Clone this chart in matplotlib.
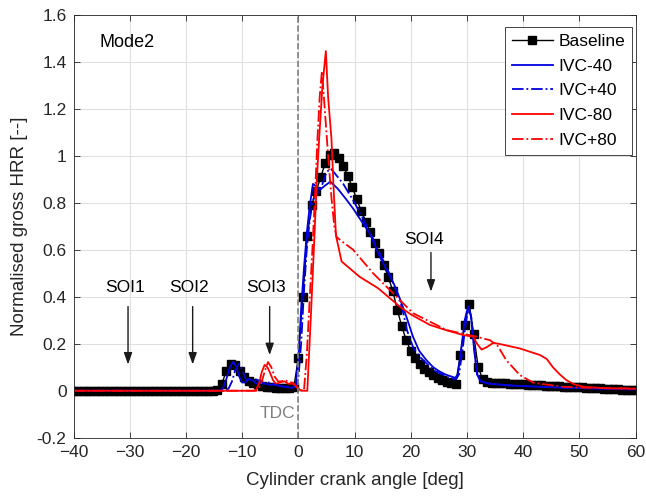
import matplotlib.pyplot as plt
import numpy as np

plt.rcParams['font.family'] = ['Liberation Sans', 'DejaVu Sans']

# Baseline is sampled every 0.8 deg from -40 to 60 deg
baseline_angle = np.linspace(-40, 60, 126)
baseline_hrr = [
    0.0, 0.0, 0.0, 0.0, 0.0, 0.0, 0.0, 0.0, 0.0, 0.0, 0.0, 0.0, 0.0, 0.0, 0.0, 0.0,
    0.0, 0.0, 0.0, 0.0, 0.0, 0.0, 0.0, 0.0, 0.0, 0.0, 0.0, 0.0, 0.0, 0.0, 0.0, 0.0,
    0.005, 0.03, 0.085, 0.115, 0.11, 0.085, 0.06, 0.042, 0.033, 0.028, 0.022, 0.018,
    0.014, 0.012, 0.01, 0.01, 0.01, 0.015,
    0.14, 0.40, 0.66, 0.79, 0.85, 0.91, 0.97, 1.005, 1.01, 0.99, 0.955, 0.915,
    0.865, 0.815, 0.765, 0.72, 0.675, 0.63, 0.585, 0.535, 0.485, 0.425, 0.345, 0.275,
    0.215, 0.17, 0.138, 0.112, 0.094, 0.08, 0.067, 0.055, 0.045, 0.037, 0.031, 0.03,
    0.15, 0.28, 0.37, 0.24, 0.10, 0.05, 0.038, 0.034,
    0.033, 0.032, 0.031, 0.03, 0.029, 0.028, 0.027, 0.026, 0.025, 0.024, 0.023, 0.022,
    0.021, 0.02, 0.019, 0.018, 0.017, 0.016, 0.015, 0.014, 0.013, 0.012, 0.011, 0.01,
    0.009, 0.008, 0.007, 0.006, 0.005, 0.004, 0.003, 0.002,
]

ivc_m40_angle = [-40, -14.0, -13.4, -12.8, -12.2, -11.6, -11.0, -10.5, -10.0, -9.5, -8.8,
                 -8.2, -7.5, -6.8, -6.0, -5.0, -4.0, -3.0, -2.0, -1.0, -0.5, 0.0, 0.5,
                 1.0, 1.5, 2.0, 2.6, 3.2, 3.8, 4.6, 5.7, 7.0, 8.5, 9.75, 11.0, 12.7,
                 14.5, 16.0, 17.0, 18.1, 19.3, 20.4, 21.5, 22.8, 24.0, 25.2, 26.3,
                 27.3, 27.9, 28.4, 29.0, 29.6, 30.2, 30.7, 31.3, 31.8, 32.4, 34.0,
                 38.0, 45.0, 52.0, 60.0]
ivc_m40_hrr = [0.0, 0.0, 0.01, 0.05, 0.10, 0.123, 0.10, 0.06, 0.035, 0.035, 0.05,
               0.045, 0.03, 0.04, 0.03, 0.025, 0.025, 0.018, 0.015, 0.012, 0.02, 0.13,
               0.35, 0.52, 0.67, 0.78, 0.88, 0.87, 0.854, 0.87, 0.89, 0.86, 0.815, 0.775,
               0.73, 0.67, 0.57, 0.50, 0.455, 0.39, 0.31, 0.23, 0.17, 0.13, 0.10, 0.081,
               0.068, 0.06, 0.055, 0.07, 0.18, 0.30, 0.36, 0.32, 0.17, 0.07, 0.04, 0.03,
               0.022, 0.015, 0.01, 0.005]

ivc_p40_angle = [-40, -13.0, -12.4, -11.8, -11.2, -10.6, -10.0, -9.3, -8.6, -8.0, -7.2,
                 -6.5, -5.7, -5.0, -4.0, -3.0, -2.0, -1.0, -0.3, 0.0, 0.5, 1.0, 1.5,
                 2.0, 2.5, 3.0, 3.6, 4.3, 5.0, 5.8, 7.0, 8.0, 10.0, 12.0, 14.0, 16.0,
                 17.5, 18.5, 19.3, 20.5, 21.6, 24.0, 27.0, 28.1, 28.6, 29.2, 29.8,
                 30.3, 30.8, 31.4, 31.9, 32.5, 34.0, 38.0, 45.0, 52.0, 60.0]
ivc_p40_hrr = [0.0, 0.0, 0.01, 0.04, 0.09, 0.115, 0.09, 0.045, 0.04, 0.05, 0.045, 0.03,
               0.035, 0.035, 0.025, 0.02, 0.018, 0.015, 0.03, 0.05, 0.2, 0.42, 0.60,
               0.72, 0.80, 0.84, 0.845, 0.88, 0.93, 0.945, 0.91, 0.88, 0.80, 0.71,
               0.61, 0.51, 0.42, 0.35, 0.26, 0.18, 0.145, 0.088, 0.053, 0.05, 0.07,
               0.17, 0.29, 0.35, 0.31, 0.16, 0.065, 0.04, 0.03, 0.022, 0.015, 0.01,
               0.005]

ivc_m80_angle = [-40, -8.0, -7.5, -7.0, -6.5, -6.0, -5.5, -5.0, -4.5, -4.0, -3.3, -2.5,
                 -1.8, -1.0, -0.3, 0.3, 1.0, 1.6, 2.2, 2.8, 3.3, 3.7, 4.3, 4.9, 5.3,
                 5.9, 6.3, 6.7, 7.7, 10.9, 14.2, 18.1, 20.0, 23.4, 26.0, 29.3, 31.1,
                 31.8, 32.6, 33.5, 34.7, 36.0, 39.4, 43.0, 44.2, 45.3, 46.5, 47.7,
                 49.0, 50.7, 55.0, 60.0]
ivc_m80_hrr = [0.0, 0.0, 0.005, 0.03, 0.08, 0.11, 0.10, 0.075, 0.045, 0.03, 0.035,
               0.04, 0.03, 0.03, 0.02, 0.003, 0.0, 0.0, 0.30, 0.62, 0.90, 1.07, 1.30,
               1.445, 1.25, 1.07, 0.85, 0.66, 0.55, 0.485, 0.436, 0.357, 0.325, 0.28,
               0.26, 0.237, 0.23, 0.20, 0.175, 0.185, 0.204, 0.198, 0.18, 0.152, 0.135,
               0.10, 0.07, 0.045, 0.028, 0.017, 0.01, 0.008]

ivc_p80_angle = [-40, -7.5, -7.0, -6.5, -6.0, -5.4, -4.8, -4.2, -3.6, -3.0, -2.3, -1.6,
                 -1.0, -0.3, 0.3, 1.0, 1.5, 2.0, 2.5, 3.0, 3.4, 3.8, 4.2, 4.7, 5.3,
                 5.9, 6.4, 6.8, 7.5, 9.75, 13.3, 16.9, 20.4, 26.4, 31.7, 34.1, 35.5,
                 37.0, 39.4, 41.8, 47.0, 52.0, 60.0]
ivc_p80_hrr = [0.0, 0.0, 0.01, 0.04, 0.08, 0.122, 0.10, 0.06, 0.04, 0.04, 0.045, 0.035,
               0.035, 0.015, 0.0, 0.0, 0.15, 0.38, 0.60, 0.85, 1.07, 1.25, 1.36, 1.20,
               1.0, 0.82, 0.70, 0.655, 0.64, 0.60, 0.50, 0.414, 0.33, 0.258, 0.23,
               0.215, 0.19, 0.13, 0.067, 0.034, 0.017, 0.012, 0.01]

# start-of-injection arrows: arrow x, arrow top, arrow tip, label height
soi_labels = ['SOI1', 'SOI2', 'SOI3', 'SOI4']
soi_angle = [-30.3, -18.8, -5.1, 23.6]
soi_top = [0.37, 0.37, 0.37, 0.60]
soi_tip = [0.10, 0.10, 0.14, 0.41]
soi_text_y = [0.44, 0.44, 0.44, 0.645]

blue = '#0000dd'
red = '#ff0000'

fig = plt.figure(figsize=(6.46, 4.98), dpi=100)
ax = fig.add_axes([0.1138, 0.121, 0.870, 0.8495])

ax.plot(baseline_angle, baseline_hrr, color='black', marker='s', markersize=5.2,
        linewidth=1.0, label='Baseline')
ax.plot(ivc_m40_angle, ivc_m40_hrr, color=blue, linewidth=1.3, label='IVC-40')
ax.plot(ivc_p40_angle, ivc_p40_hrr, color=blue, linewidth=1.3, linestyle='-.',
        label='IVC+40')
ax.plot(ivc_m80_angle, ivc_m80_hrr, color=red, linewidth=1.3, label='IVC-80')
ax.plot(ivc_p80_angle, ivc_p80_hrr, color=red, linewidth=1.3, linestyle='-.',
        label='IVC+80')

ax.axvline(0, color='#808080', linestyle='--', linewidth=1.2, zorder=5)
ax.text(-0.6, -0.095, 'TDC', color='#808080', fontsize=12.5, ha='right', va='center')
ax.text(-35.3, 1.48, 'Mode2', fontsize=13, ha='left', va='center')

for lab, xa, top, tip, ty in zip(soi_labels, soi_angle, soi_top, soi_tip, soi_text_y):
    ax.annotate('', xy=(xa, tip), xytext=(xa, top),
                arrowprops=dict(arrowstyle='-|>,head_length=0.7,head_width=0.25',
                                color='#1a1a1a', linewidth=1.0))
    dx = -1.2 if lab == 'SOI4' else -0.6
    ax.text(xa + dx, ty, lab, fontsize=12.5, ha='center', va='center')

ax.set_xlim(-40, 60)
ax.set_ylim(-0.2, 1.6)
ax.set_xticks(np.arange(-40, 61, 10))
ax.set_yticks(np.arange(-0.2, 1.61, 0.2))
ax.set_yticklabels(['-0.2', '0', '0.2', '0.4', '0.6', '0.8', '1', '1.2', '1.4', '1.6'])
ax.tick_params(direction='in', length=4, width=0.6, top=True, right=True,
               labelsize=12.5, colors='#262626', pad=5)
ax.grid(True, color='#e0e0e0', linewidth=0.8)
ax.set_axisbelow(True)
for sp in ax.spines.values():
    sp.set_color('#262626')
    sp.set_linewidth(0.6)

ax.set_xlabel('Cylinder crank angle [deg]', fontsize=13.5, color='#262626', labelpad=9)
ax.set_ylabel('Normalised gross HRR [--]', fontsize=13.5, color='#262626', labelpad=6)

leg = ax.legend(loc='upper right', bbox_to_anchor=(0.994, 0.971), borderaxespad=0,
                fontsize=12.5, fancybox=False, edgecolor='#262626', framealpha=1,
                handlelength=2.4, handletextpad=0.3, labelspacing=0.55,
                borderpad=0.4)
leg.get_frame().set_linewidth(0.6)

plt.savefig('out.png', dpi=100)
